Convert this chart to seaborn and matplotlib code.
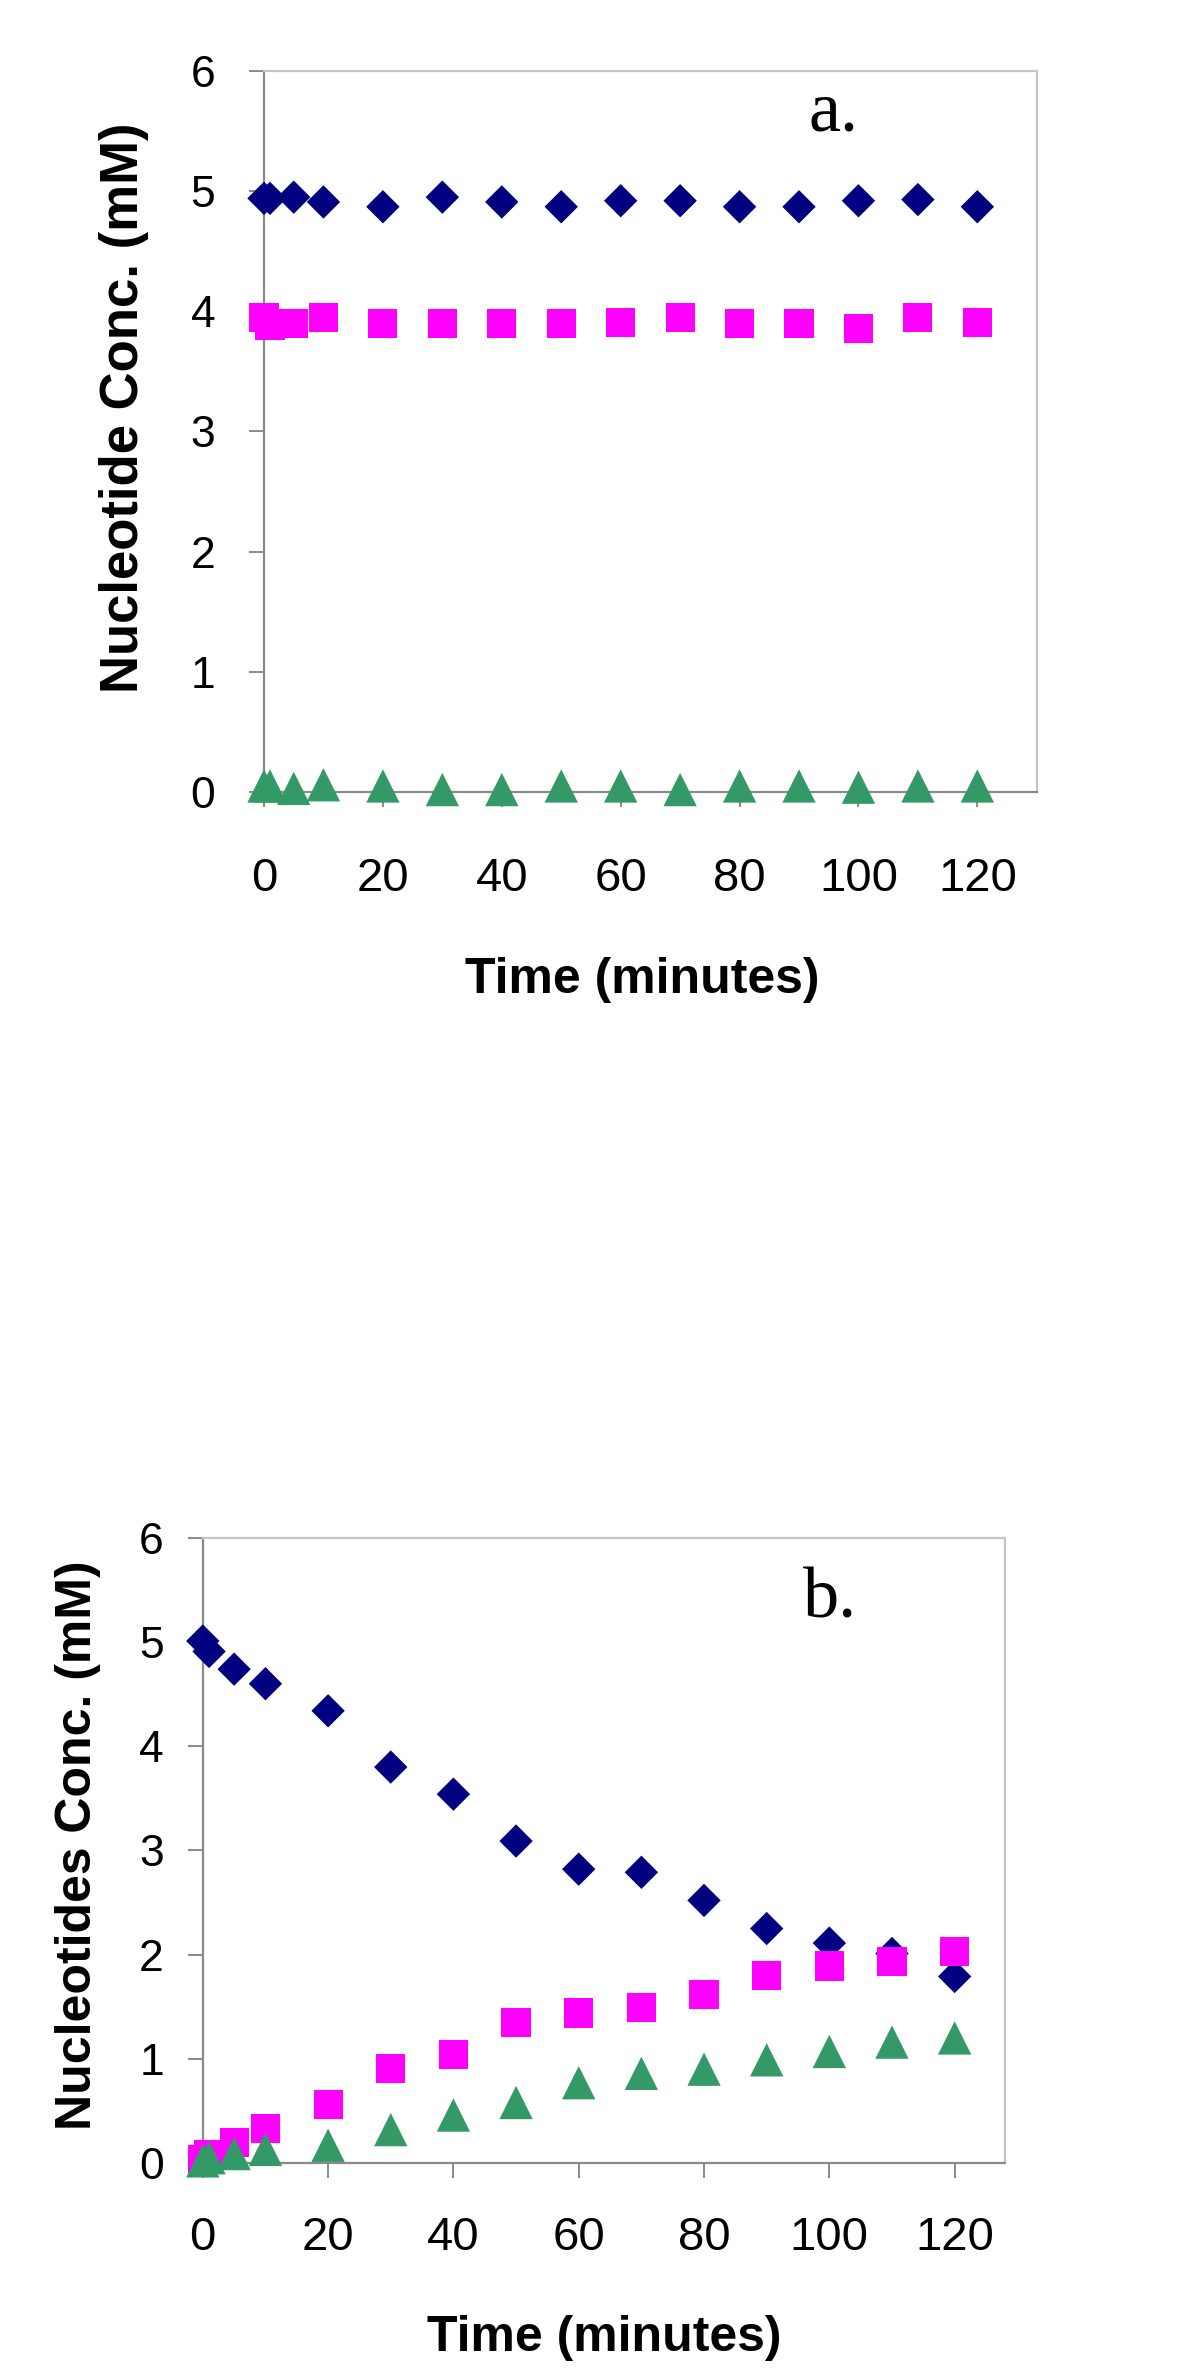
import numpy as np
import pandas as pd
import matplotlib
matplotlib.use("Agg")
import matplotlib.pyplot as plt
import seaborn as sns

# sampling times (minutes), same for both panels
time_min = [0, 1, 5, 10, 20, 30, 40, 50, 60, 70, 80, 90, 100, 110, 120]

# panel a
a_diamond = [4.94, 4.94, 4.95, 4.91, 4.87, 4.95, 4.91, 4.87, 4.92, 4.92, 4.87, 4.87, 4.92, 4.93, 4.87]
a_square = [3.95, 3.88, 3.90, 3.95, 3.90, 3.90, 3.90, 3.90, 3.91, 3.95, 3.90, 3.90, 3.86, 3.95, 3.91]
a_triangle = [0.05, 0.05, 0.03, 0.06, 0.05, 0.02, 0.02, 0.05, 0.05, 0.02, 0.05, 0.05, 0.04, 0.05, 0.05]

# panel b
b_diamond = [5.01, 4.91, 4.74, 4.60, 4.34, 3.80, 3.54, 3.09, 2.82, 2.79, 2.52, 2.25, 2.11, 2.01, 1.79]
b_square = [0.03, 0.08, 0.20, 0.33, 0.56, 0.91, 1.04, 1.35, 1.44, 1.49, 1.62, 1.80, 1.89, 1.93, 2.03]
b_triangle = [0.02, 0.05, 0.09, 0.13, 0.17, 0.32, 0.46, 0.58, 0.77, 0.86, 0.90, 0.99, 1.07, 1.16, 1.20]

x_ticks = [0, 20, 40, 60, 80, 100, 120]
y_ticks = [0, 1, 2, 3, 4, 5, 6]

series_order = ["diamond", "square", "triangle"]
colors = {"diamond": "#000080", "square": "#FF00FF", "triangle": "#339966"}
markers = {"diamond": "D", "square": "s", "triangle": "^"}
sizes = {"diamond": 17 ** 2, "square": 21 ** 2, "triangle": 24 ** 2}


def to_long(diamond, square, triangle):
    frames = []
    for name, vals in zip(series_order, [diamond, square, triangle]):
        frames.append(pd.DataFrame({"time": time_min, "conc": vals, "series": name}))
    return pd.concat(frames, ignore_index=True)


def draw_panel(ax, df, xmax, ylabel, tag, tag_xy, ylab_xy, xlab_xy,
               ylab_size, xpad, ypad):
    sns.scatterplot(data=df, x="time", y="conc", hue="series", style="series",
                    size="series", hue_order=series_order, style_order=series_order,
                    size_order=series_order, palette=colors, markers=markers,
                    sizes=sizes, linewidth=0, edgecolor="none", legend=False,
                    clip_on=False, zorder=3, ax=ax)
    ax.set_xlim(0, xmax)
    ax.set_ylim(0, 6)
    ax.set_xticks(x_ticks)
    ax.set_yticks(y_ticks)
    ax.set_xlabel("")
    ax.set_ylabel("")
    for side in ["left", "bottom"]:
        ax.spines[side].set_color("#8a8a8a")
        ax.spines[side].set_linewidth(1.6)
    for side in ["top", "right"]:
        ax.spines[side].set_visible(True)
        ax.spines[side].set_color("#c4c4c4")
        ax.spines[side].set_linewidth(1.6)
    ax.tick_params(axis="x", direction="out", length=11, width=1.4,
                   color="#8a8a8a", labelcolor="black", labelsize=34,
                   pad=xpad, bottom=True)
    ax.tick_params(axis="y", direction="out", length=11, width=1.4,
                   color="#8a8a8a", labelcolor="black", labelsize=32,
                   pad=ypad, left=True)
    ax.text(ylab_xy[0], ylab_xy[1], ylabel, transform=ax.transAxes, rotation=90,
            ha="center", va="center", fontsize=ylab_size, fontweight="bold",
            color="black")
    ax.text(xlab_xy[0], xlab_xy[1], "Time (minutes)", transform=ax.transAxes,
            ha="center", va="center", fontsize=36, fontweight="bold",
            color="black")
    ax.text(tag_xy[0], tag_xy[1], tag, transform=ax.transAxes, ha="left",
            va="baseline", fontsize=52, family="Liberation Serif", color="black")


sns.set_theme(style="white")
plt.rcParams["font.family"] = ["Liberation Sans", "DejaVu Sans"]

fig = plt.figure(figsize=(12, 23.74), dpi=100)
ax_a = fig.add_axes([0.22, 0.6664, 0.644, 0.3037])
ax_b = fig.add_axes([0.169, 0.0889, 0.6683, 0.2633])

draw_panel(ax_a, to_long(a_diamond, a_square, a_triangle), 130,
           "Nucleotide Conc. (mM)", "a.", (0.704, 0.918), (-0.181, 0.533),
           (0.49, -0.261), 38, 36, 24)
draw_panel(ax_b, to_long(b_diamond, b_square, b_triangle), 128,
           "Nucleotides Conc. (mM)", "b.", (0.748, 0.872), (-0.156, 0.509),
           (0.5, -0.28), 36, 27, 17)

fig.savefig("out.png", dpi=100, facecolor="white")
